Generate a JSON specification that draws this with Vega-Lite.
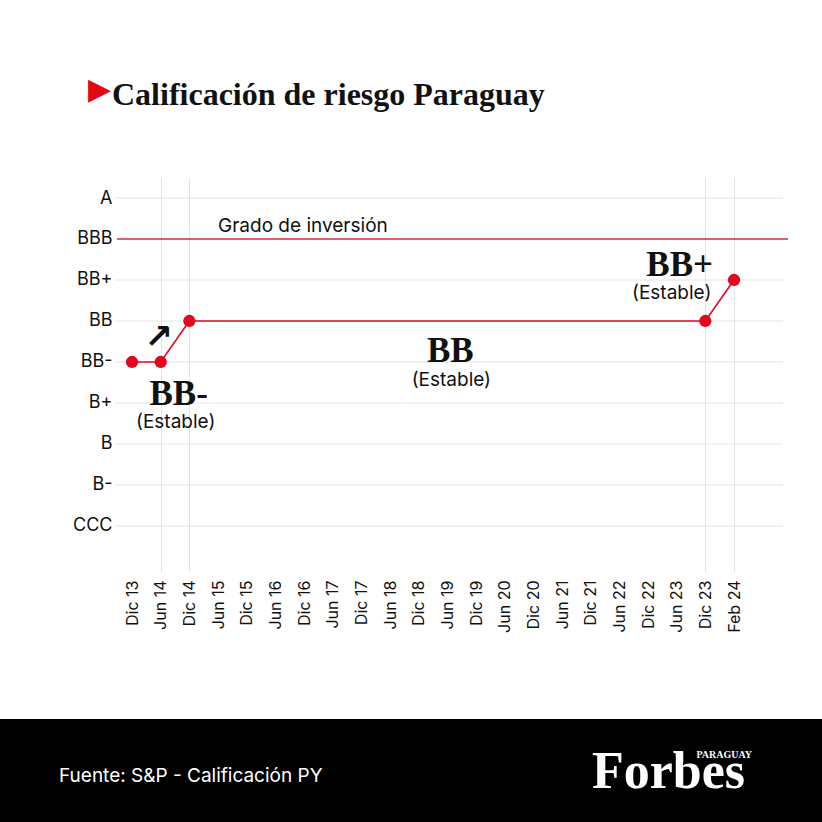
{
  "$schema": "https://vega.github.io/schema/vega-lite/v6.json",
  "background": "#ffffff",
  "padding": {"left": 0, "right": 0, "top": 75, "bottom": 0},
  "title": {
    "text": "▶",
    "subtitle": "\u200b\u00a0\u00a0\u00a0Calificación de riesgo Paraguay",
    "anchor": "start",
    "frame": "bounds",
    "dx": 88,
    "offset": 67,
    "font": "DejaVu Sans",
    "fontSize": 30,
    "fontWeight": "normal",
    "color": "#e30613",
    "subtitleFont": "Liberation Serif",
    "subtitleFontSize": 32,
    "subtitleFontWeight": "bold",
    "subtitleColor": "#111111",
    "subtitlePadding": -25
  },
  "spacing": 86,
  "config": {"view": {"stroke": null}, "font": "Inter"},
  "vconcat": [
    {
      "width": 800,
      "height": 394,
      "layer": [
        {
          "data": {"values": [
            {"calificacion": "A"}, {"calificacion": "BB+"}, {"calificacion": "BB"},
            {"calificacion": "BB-"}, {"calificacion": "B+"}, {"calificacion": "B"},
            {"calificacion": "B-"}, {"calificacion": "CCC"}
          ]},
          "mark": {"type": "rule", "color": "#e3e3e3", "strokeWidth": 1, "xOffset": -17, "x2Offset": 49},
          "encoding": {
            "y": {"field": "calificacion", "type": "ordinal"},
            "x": {"datum": "Dic 13", "type": "ordinal"},
            "x2": {"datum": "Feb 24"}
          }
        },
        {
          "data": {"values": [{"calificacion": "BBB"}]},
          "mark": {"type": "rule", "color": "#d7263d", "strokeWidth": 1.5, "xOffset": -15, "x2Offset": 54},
          "encoding": {
            "y": {"field": "calificacion", "type": "ordinal"},
            "x": {"datum": "Dic 13", "type": "ordinal"},
            "x2": {"datum": "Feb 24"}
          }
        },
        {
          "data": {"values": [{"calificacion": "BBB", "etiqueta": "Grado de inversión", "periodo": "Jun 15"}]},
          "mark": {"type": "text", "align": "left", "baseline": "alphabetic", "dy": -7, "fontSize": 19, "font": "Inter", "color": "#111111"},
          "encoding": {
            "x": {"field": "periodo", "type": "ordinal"},
            "y": {"field": "calificacion", "type": "ordinal"},
            "text": {"field": "etiqueta", "type": "nominal"}
          }
        },
        {
          "data": {"values": [
            {"periodo": "Dic 13", "calificacion": "BB-"},
            {"periodo": "Jun 14", "calificacion": "BB-"},
            {"periodo": "Dic 14", "calificacion": "BB"},
            {"periodo": "Dic 23", "calificacion": "BB"},
            {"periodo": "Feb 24", "calificacion": "BB+"}
          ]},
          "encoding": {
            "x": {
              "field": "periodo",
              "type": "ordinal",
              "scale": {
                "type": "point",
                "domain": ["Dic 13", "Jun 14", "Dic 14", "Jun 15", "Dic 15", "Jun 16", "Dic 16", "Jun 17", "Dic 17", "Jun 18", "Dic 18", "Jun 19", "Dic 19", "Jun 20", "Dic 20", "Jun 21", "Dic 21", "Jun 22", "Dic 22", "Jun 23", "Dic 23", "Feb 24"],
                "range": [132, 734],
                "padding": 0
              },
              "axis": {
                "title": null,
                "labelAngle": -90,
                "labelFontSize": 16,
                "labelFont": "Inter",
                "labelColor": "#111111",
                "labelPadding": 8,
                "ticks": false,
                "domain": false,
                "grid": true,
                "gridColor": "#e3e3e3",
                "gridOpacity": {"condition": {"test": "indexof(['Jun 14','Dic 14','Dic 23','Feb 24'], datum.value) >= 0", "value": 1}, "value": 0},
                "minExtent": 60,
                "maxExtent": 60
              }
            },
            "y": {
              "field": "calificacion",
              "type": "ordinal",
              "scale": {
                "type": "point",
                "domain": ["A", "BBB", "BB+", "BB", "BB-", "B+", "B", "B-", "CCC"],
                "padding": 0.805,
                "align": 0.303
              },
              "axis": {
                "title": null,
                "offset": -115,
                "labelFontSize": 18,
                "labelFont": "Inter",
                "labelColor": "#111111",
                "labelPadding": 3,
                "ticks": false,
                "domain": false,
                "grid": false
              }
            },
            "order": {"value": null}
          },
          "layer": [
            {"mark": {"type": "line", "color": "#e3061c", "strokeWidth": 1.6}},
            {"mark": {"type": "circle", "color": "#e3061c", "opacity": 1, "size": 150}}
          ]
        },
        {
          "data": {"values": [{"periodo": "Jun 14", "calificacion": "BB", "flecha": "↗"}]},
          "mark": {"type": "text", "font": "DejaVu Sans", "fontSize": 34, "fontWeight": "bold", "color": "#111111", "baseline": "middle", "dx": -2, "dy": 17},
          "encoding": {
            "x": {"field": "periodo", "type": "ordinal"},
            "y": {"field": "calificacion", "type": "ordinal"},
            "text": {"field": "flecha", "type": "nominal"}
          }
        },
        {
          "data": {"values": [{"periodo": "Jun 14", "calificacion": "B+", "nota": "BB-"}]},
          "mark": {"type": "text", "font": "Liberation Serif", "fontSize": 35, "fontWeight": "bold", "color": "#111111", "baseline": "alphabetic", "dx": 18, "dy": 2},
          "encoding": {
            "x": {"field": "periodo", "type": "ordinal"},
            "y": {"field": "calificacion", "type": "ordinal"},
            "text": {"field": "nota", "type": "nominal"}
          }
        },
        {
          "data": {"values": [{"periodo": "Jun 14", "calificacion": "B+", "perspectiva": "(Estable)"}]},
          "mark": {"type": "text", "font": "Inter", "fontSize": 19, "color": "#111111", "baseline": "middle", "dx": 15, "dy": 19},
          "encoding": {
            "x": {"field": "periodo", "type": "ordinal"},
            "y": {"field": "calificacion", "type": "ordinal"},
            "text": {"field": "perspectiva", "type": "nominal"}
          }
        },
        {
          "data": {"values": [{"periodo": "Jun 19", "calificacion": "BB-", "nota": "BB"}]},
          "mark": {"type": "text", "font": "Liberation Serif", "fontSize": 35, "fontWeight": "bold", "color": "#111111", "baseline": "alphabetic", "dx": 3, "dy": 0},
          "encoding": {
            "x": {"field": "periodo", "type": "ordinal"},
            "y": {"field": "calificacion", "type": "ordinal"},
            "text": {"field": "nota", "type": "nominal"}
          }
        },
        {
          "data": {"values": [{"periodo": "Jun 19", "calificacion": "BB-", "perspectiva": "(Estable)"}]},
          "mark": {"type": "text", "font": "Inter", "fontSize": 19, "color": "#111111", "baseline": "middle", "dx": 4, "dy": 18},
          "encoding": {
            "x": {"field": "periodo", "type": "ordinal"},
            "y": {"field": "calificacion", "type": "ordinal"},
            "text": {"field": "perspectiva", "type": "nominal"}
          }
        },
        {
          "data": {"values": [{"periodo": "Jun 23", "calificacion": "BB+", "nota": "BB+"}]},
          "mark": {"type": "text", "font": "Liberation Serif", "fontSize": 35, "fontWeight": "bold", "color": "#111111", "baseline": "alphabetic", "dx": 3, "dy": -4},
          "encoding": {
            "x": {"field": "periodo", "type": "ordinal"},
            "y": {"field": "calificacion", "type": "ordinal"},
            "text": {"field": "nota", "type": "nominal"}
          }
        },
        {
          "data": {"values": [{"periodo": "Jun 23", "calificacion": "BB+", "perspectiva": "(Estable)"}]},
          "mark": {"type": "text", "font": "Inter", "fontSize": 19, "color": "#111111", "baseline": "middle", "dx": -5, "dy": 13},
          "encoding": {
            "x": {"field": "periodo", "type": "ordinal"},
            "y": {"field": "calificacion", "type": "ordinal"},
            "text": {"field": "perspectiva", "type": "nominal"}
          }
        }
      ]
    },
    {
      "width": 822,
      "height": 104,
      "view": {"fill": "#000000", "stroke": null},
      "layer": [
        {
          "data": {"values": [{"fuente": "Fuente: S&P - Calificación PY"}]},
          "mark": {"type": "text", "align": "left", "baseline": "middle", "dx": -352, "dy": 5, "color": "#ffffff", "fontSize": 19, "font": "Inter"},
          "encoding": {"text": {"field": "fuente", "type": "nominal"}}
        },
        {
          "data": {"values": [{"marca": "Forbes"}]},
          "mark": {"type": "text", "align": "right", "baseline": "alphabetic", "dx": 334, "dy": 17, "color": "#ffffff", "fontSize": 52, "font": "Liberation Serif", "fontWeight": "bold"},
          "encoding": {"text": {"field": "marca", "type": "nominal"}}
        },
        {
          "data": {"values": [{"edicion": "PARAGUAY"}]},
          "mark": {"type": "text", "align": "right", "baseline": "alphabetic", "dx": 341, "dy": -13, "color": "#ffffff", "fontSize": 10, "font": "Liberation Serif", "fontWeight": "bold"},
          "encoding": {"text": {"field": "edicion", "type": "nominal"}}
        }
      ]
    }
  ]
}
